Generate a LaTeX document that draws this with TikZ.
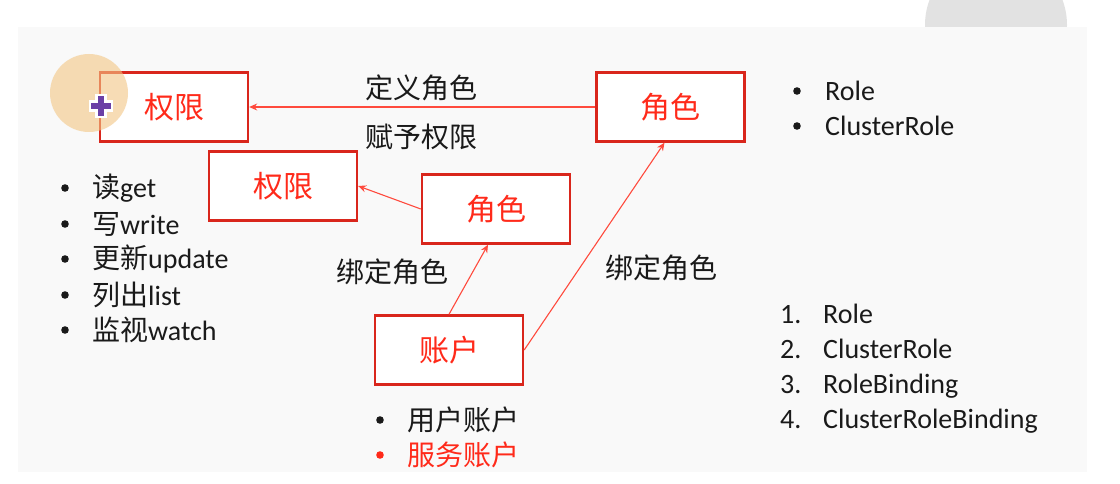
\documentclass[tikz,border=0pt]{standalone}
\usepackage{fontspec}
\setmainfont{Carlito}
\newfontfamily\cjk{Noto Sans CJK SC}
\usetikzlibrary{arrows.meta}
\definecolor{boxred}{HTML}{D9261C}
\definecolor{txtred}{HTML}{FF2A1A}
\definecolor{linered}{HTML}{FF4A3D}
\definecolor{panel}{HTML}{F9F9F9}
\definecolor{deco}{HTML}{E2E2E2}
\definecolor{ink}{HTML}{1A1A1A}
\definecolor{peach}{HTML}{F3C684}
\definecolor{cursor}{HTML}{6B3FA6}
\begin{document}
\begin{tikzpicture}[x=1pt,y=-1pt,
  box/.style={draw=boxred,line width=2.4pt,fill=white,minimum width=148pt,minimum height=69pt,inner sep=0pt,text=txtred,font=\cjk\fontsize{30}{36}\selectfont},
  conn/.style={draw=linered,line width=1.1pt,-{Stealth[length=8pt,width=7pt]}},
  lbl/.style={anchor=base west,inner sep=0pt,text=ink,font=\cjk\fontsize{28}{34}\selectfont},
  item/.style={anchor=base west,inner sep=0pt,text=ink,font=\fontsize{28}{34}\selectfont}]
\useasboundingbox (0,0) rectangle (1120,484);
\fill[white] (0,0) rectangle (1120,484);
\fill[deco] (996,25) circle (71);
\fill[panel] (18,27) rectangle (1087,472);

% boxes
\node[box] (b1) at (174,107) {权限};
\node[box] (b2) at (670.5,107) {角色};
\node[box] (b3) at (283,186) {权限};
\node[box] (b4) at (496,209) {角色};
\node[box] (b5) at (449,350) {账户};

% connectors
\draw[conn] (b2.west) -- (b1.east);
\draw[conn] (b4.west) -- (b3.east);
\draw[conn] (b5.north) -- ([xshift=-8pt]b4.south);
\draw[conn] (b5.east) -- ([xshift=-6pt]b2.south);

% labels
\node[lbl] (la) at (365,99) {定义角色};
\node[lbl] (lb) at (365,148) {赋予权限};
\node[lbl] (lc) at (336,282) {绑定角色};
\node[lbl] (ld) at (605,278) {绑定角色};

% left list
\foreach \yy in {188,224,259,295,330} \fill[ink] (65,\yy) circle (3.8);
\node[item] (p1) at (92,198) {{\cjk 读}get};
\node[item] (p2) at (92,234) {{\cjk 写}write};
\node[item] (p3) at (92,269) {{\cjk 更新}update};
\node[item] (p4) at (92,305) {{\cjk 列出}list};
\node[item] (p5) at (92,340) {{\cjk 监视}watch};

% top right list
\fill[ink] (797,91) circle (3.8);
\fill[ink] (797,126) circle (3.8);
\node[item] (r1) at (825,101) {Role};
\node[item] (r2) at (825,136) {ClusterRole};

% numbered list
\node[item] (n1) at (780,323) {1.};
\node[item] (n2) at (780,358) {2.};
\node[item] (n3) at (780,393) {3.};
\node[item] (n4) at (780,428) {4.};
\node[item] (t1) at (823,323) {Role};
\node[item] (t2) at (823,358) {ClusterRole};
\node[item] (t3) at (823,393) {RoleBinding};
\node[item] (t4) at (823,428) {ClusterRoleBinding};

% bottom list
\fill[ink] (380,420) circle (3.8);
\fill[txtred] (380,455) circle (3.8);
\node[item] (u1) at (407,430) {\cjk 用户账户};
\node[item,text=txtred] (u2) at (407,465) {\cjk 服务账户};

% cursor highlight
\fill[peach,fill opacity=0.6] (89,93) circle (39);
\filldraw[fill=cursor,draw=white,line width=2.2pt]
  (96.5,95) -- (105.5,95) -- (105.5,101.5) -- (112,101.5) -- (112,110.5) -- (105.5,110.5) -- (105.5,117)
  -- (96.5,117) -- (96.5,110.5) -- (90,110.5) -- (90,101.5) -- (96.5,101.5) -- cycle;
\end{tikzpicture}
\end{document}
